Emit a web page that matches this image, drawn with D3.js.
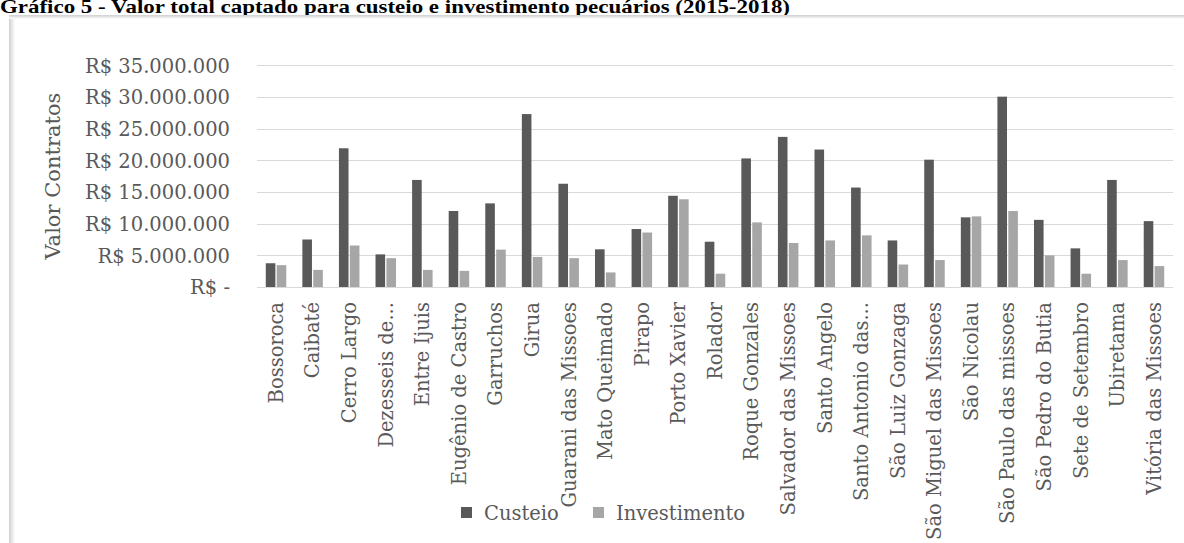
<!DOCTYPE html>
<html>
<head>
<meta charset="utf-8">
<script src="https://cdn.jsdelivr.net/npm/d3@7"></script>
<style>
  html, body { margin: 0; padding: 0; background: #fff; }
  svg { display: block; }
</style>
</head>
<body>
<svg id="chart" width="1184" height="543"></svg>
<script>
// Municípios e valores captados (R$)
const categories = [
  "Bossoroca", "Caibaté", "Cerro Largo", "Dezesseis de...", "Entre Ijuis",
  "Eugênio de Castro", "Garruchos", "Girua", "Guarani das Missoes", "Mato Queimado",
  "Pirapo", "Porto Xavier", "Rolador", "Roque Gonzales", "Salvador das Missoes",
  "Santo Angelo", "Santo Antonio das...", "São Luiz Gonzaga", "São Miguel das Missoes", "São Nicolau",
  "São Paulo das missoes", "São Pedro do Butia", "Sete de Setembro", "Ubiretama", "Vitória das Missoes"
];
const custeio = [
  3750000, 7500000, 21900000, 5150000, 16900000,
  12000000, 13200000, 27300000, 16300000, 5950000,
  9150000, 14400000, 7150000, 20300000, 23700000,
  21700000, 15700000, 7350000, 20100000, 11000000,
  30050000, 10600000, 6100000, 16900000, 10400000
];
const investimento = [
  3450000, 2700000, 6550000, 4550000, 2700000,
  2550000, 5900000, 4750000, 4550000, 2300000,
  8600000, 13850000, 2100000, 10200000, 6950000,
  7350000, 8150000, 3550000, 4250000, 11150000,
  12000000, 5000000, 2100000, 4250000, 3300000
];
const seriesNames = ["Custeio", "Investimento"];
const seriesColors = ["#595959", "#a6a6a6"];
const yTicks = [0, 5000000, 10000000, 15000000, 20000000, 25000000, 30000000, 35000000];
const yTickLabels = ["R$ -", "R$ 5.000.000", "R$ 10.000.000", "R$ 15.000.000", "R$ 20.000.000",
                     "R$ 25.000.000", "R$ 30.000.000", "R$ 35.000.000"];

const svg = d3.select("#chart");
const W = 1184, H = 543;
const font = "'DejaVu Serif', serif";
const textGray = "#595959";

// Title
svg.append("text")
  .attr("x", 0).attr("y", 13)
  .attr("font-family", "'Liberation Serif', 'Times New Roman', serif")
  .attr("font-weight", "bold")
  .attr("font-size", 19.5)
  .attr("textLength", 790)
  .attr("lengthAdjust", "spacingAndGlyphs")
  .attr("fill", "#000")
  .text("Gráfico 5 - Valor total captado para custeio e investimento pecuários (2015-2018)");

// Chart frame with a soft edge
const defs = svg.append("defs");
const shade = defs.append("linearGradient").attr("id", "leftShade").attr("x1", 0).attr("x2", 1);
shade.append("stop").attr("offset", 0).attr("stop-color", "#d0d0d0");
shade.append("stop").attr("offset", 1).attr("stop-color", "#ffffff");
svg.append("rect").attr("x", 9).attr("y", 16).attr("width", 6).attr("height", H - 16)
  .attr("fill", "url(#leftShade)");
const shadeTop = defs.append("linearGradient").attr("id", "topShade").attr("x1", 0).attr("x2", 0).attr("y1", 0).attr("y2", 1);
shadeTop.append("stop").attr("offset", 0).attr("stop-color", "#cfcfcf");
shadeTop.append("stop").attr("offset", 1).attr("stop-color", "#ffffff");
svg.append("rect").attr("x", 9).attr("y", 15).attr("width", W - 9).attr("height", 4)
  .attr("fill", "url(#topShade)");

// Scales
const plot = { left: 257, right: 1173, top: 65.3, bottom: 287 };
const x0 = d3.scaleBand().domain(categories).range([plot.left, plot.right])
  .paddingInner(0.44).paddingOuter(0.24);
const x1 = d3.scaleBand().domain(seriesNames).range([0, x0.bandwidth()]).paddingInner(0.12);
const y = d3.scaleLinear().domain([0, 35000000]).range([plot.bottom, plot.top]);

// Gridlines
svg.append("g")
  .selectAll("line").data(yTicks).join("line")
  .attr("x1", plot.left).attr("x2", plot.right)
  .attr("y1", d => Math.round(y(d)) + 0.5).attr("y2", d => Math.round(y(d)) + 0.5)
  .attr("stroke", "#d9d9d9").attr("stroke-width", 1.2);

// Y axis labels
const yAxis = d3.axisLeft(y).tickValues(yTicks)
  .tickFormat((d, i) => yTickLabels[i]).tickSize(0).tickPadding(0);
const gy = svg.append("g").attr("transform", `translate(230,0)`).call(yAxis);
gy.select(".domain").remove();
gy.selectAll("text")
  .attr("font-family", font).attr("font-size", 19.5).attr("fill", textGray)
  .attr("dy", "0.35em");

// Y axis title
svg.append("text")
  .attr("transform", `translate(60,${(plot.top + plot.bottom) / 2}) rotate(-90)`)
  .attr("text-anchor", "middle")
  .attr("font-family", font).attr("font-size", 21).attr("fill", textGray)
  .text("Valor Contratos");

// Bars
const rows = categories.map((c, i) => ({ cat: c, vals: [custeio[i], investimento[i]] }));
const groups = svg.append("g").selectAll("g").data(rows).join("g")
  .attr("transform", d => `translate(${x0(d.cat)},0)`);
groups.selectAll("rect")
  .data(d => d.vals.map((v, k) => ({ key: seriesNames[k], v, k })))
  .join("rect")
  .attr("x", d => x1(d.key))
  .attr("width", x1.bandwidth())
  .attr("y", d => y(d.v))
  .attr("height", d => y(0) - y(d.v))
  .attr("fill", d => seriesColors[d.k]);

// X axis labels (rotated)
const xAxis = d3.axisBottom(x0).tickSize(0).tickPadding(0);
const gx = svg.append("g").attr("transform", `translate(0,${plot.bottom})`).call(xAxis);
gx.select(".domain").remove();
gx.selectAll("text")
  .attr("font-family", font).attr("font-size", 19.5).attr("fill", textGray)
  .attr("text-anchor", "end")
  .attr("transform", "rotate(-90)")
  .attr("x", -15).attr("y", 0).attr("dy", "0.35em");

// Legend
const legend = svg.append("g");
const legendItems = [
  { name: seriesNames[0], color: seriesColors[0], x: 461 },
  { name: seriesNames[1], color: seriesColors[1], x: 593 }
];
legendItems.forEach(it => {
  legend.append("rect").attr("x", it.x).attr("y", 507).attr("width", 11).attr("height", 11)
    .attr("fill", it.color);
  legend.append("text").attr("x", it.x + 23).attr("y", 513).attr("dy", "0.35em")
    .attr("font-family", font).attr("font-size", 19.5).attr("fill", textGray)
    .text(it.name);
});
</script>
</body>
</html>
